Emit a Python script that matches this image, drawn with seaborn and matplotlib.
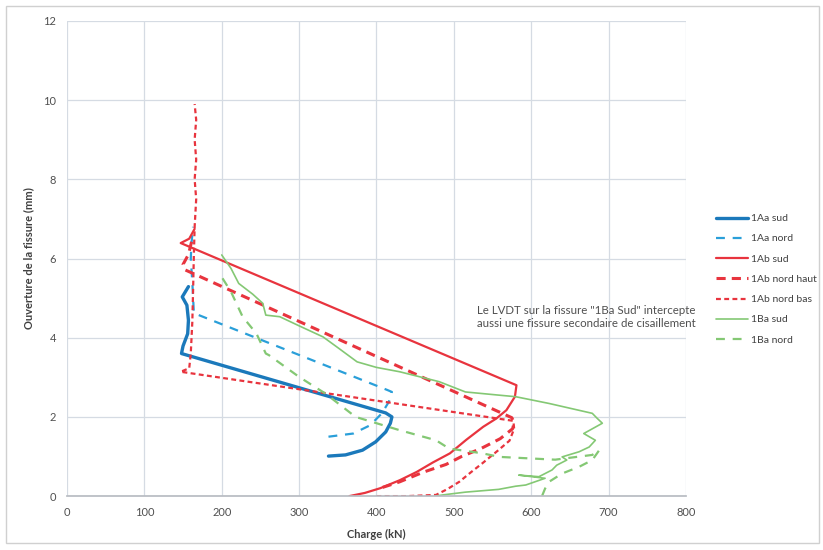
import matplotlib
matplotlib.use("Agg")
import matplotlib.pyplot as plt
import seaborn as sns
import pandas as pd
from matplotlib.patches import Rectangle

# Values (load in kN, crack opening in mm)
aa_sud_x = [338, 360, 382, 399, 412, 418, 420, 412, 148, 150, 156, 157, 155, 149, 157]
aa_sud_y = [1.01, 1.04, 1.16, 1.37, 1.62, 1.84, 2.00, 2.10, 3.60, 3.79, 4.10, 4.44, 4.82, 5.03, 5.29]

aa_nord_x = [338, 370, 392, 407, 416, 420, 414, 164, 162, 160, 161, 163]
aa_nord_y = [1.50, 1.58, 1.79, 2.09, 2.38, 2.63, 2.68, 4.62, 5.40, 6.00, 6.40, 6.80]

ab_sud_x = [365, 385, 405, 430, 452, 473, 495, 516, 538, 555, 568, 579, 581, 147, 158, 165]
ab_sud_y = [0.0, 0.08, 0.20, 0.40, 0.61, 0.85, 1.08, 1.42, 1.75, 1.96, 2.17, 2.51, 2.80, 6.39, 6.50, 6.75]

ab_haut_x = [408, 430, 460, 490, 510, 535, 560, 576, 578, 575, 153, 150, 157, 162]
ab_haut_y = [0.22, 0.36, 0.60, 0.80, 1.00, 1.20, 1.45, 1.70, 1.85, 1.98, 5.71, 5.85, 6.10, 6.50]

ab_bas_x = [400, 440, 477, 492, 507, 522, 537, 557, 572, 578, 577, 147, 158, 160, 162, 163, 164, 165, 167, 165, 167, 165, 167, 165]
ab_bas_y = [0.0, 0.0, 0.03, 0.18, 0.36, 0.60, 0.83, 1.15, 1.40, 1.70, 1.90, 3.14, 3.23, 3.60, 4.40, 5.20, 6.10, 6.80, 7.50, 8.00, 8.50, 9.00, 9.50, 9.90]

ba_sud_x = [200, 212, 222, 240, 253, 257, 275, 300, 331, 350, 375, 400, 430, 481, 515, 558, 580, 623, 679, 685,
            692, 668, 683, 675, 662, 640, 646, 633, 627, 610, 584, 618, 593, 580, 558, 515, 490, 475]
ba_sud_y = [6.09, 5.75, 5.37, 5.10, 4.87, 4.57, 4.53, 4.30, 4.02, 3.75, 3.39, 3.25, 3.14, 2.89, 2.63, 2.55, 2.51, 2.34, 2.09, 1.97,
            1.84, 1.58, 1.41, 1.24, 1.12, 0.99, 0.91, 0.78, 0.66, 0.49, 0.53, 0.45, 0.28, 0.25, 0.17, 0.10, 0.04, 0.0]

ba_nord_x = [201, 212, 227, 245, 257, 261, 300, 334, 373, 429, 477, 494, 537, 559, 631, 679, 688, 679, 662, 640, 623, 618, 614]
ba_nord_y = [5.50, 5.16, 4.53, 4.10, 3.60, 3.56, 3.01, 2.59, 2.00, 1.67, 1.41, 1.20, 1.08, 0.99, 0.92, 1.04, 1.16, 0.91, 0.74, 0.57, 0.36, 0.19, 0.0]

x_ticks = [0, 100, 200, 300, 400, 500, 600, 700, 800]
y_ticks = [0, 2, 4, 6, 8, 10, 12]

series = [
    ("1Aa sud", aa_sud_x, aa_sud_y, "#1b79bb", 2.4, "-"),
    ("1Aa nord", aa_nord_x, aa_nord_y, "#2a9fd9", 1.6, (0, (4, 3.5))),
    ("1Ab sud", ab_sud_x, ab_sud_y, "#e8343e", 1.6, "-"),
    ("1Ab nord haut", ab_haut_x, ab_haut_y, "#e8343e", 2.2, (0, (3, 2))),
    ("1Ab nord bas", ab_bas_x, ab_bas_y, "#e8343e", 1.6, (0, (2.2, 1.5))),
    ("1Ba sud", ba_sud_x, ba_sud_y, "#84c874", 1.2, "-"),
    ("1Ba nord", ba_nord_x, ba_nord_y, "#84c874", 1.6, (0, (4, 3.5))),
]

sns.set_theme(style="white")
plt.rcParams['font.family'] = ['Lato', 'DejaVu Sans']

fig = plt.figure(figsize=(8.23, 5.5), dpi=100)
ax = fig.add_axes([0.0814, 0.098, 0.752, 0.864])

for name, xs, ys, col, lw, ls in series:
    d = pd.DataFrame({"Charge": xs, "Ouverture": ys})
    sns.lineplot(data=d, x="Charge", y="Ouverture", sort=False, estimator=None,
                 color=col, linewidth=lw, linestyle=ls, label=name, ax=ax)

ax.set_xlim(0, 800)
ax.set_ylim(0, 12)
ax.set_xticks(x_ticks)
ax.set_yticks(y_ticks)
ax.grid(True, color="#d5dbe3", linewidth=0.9)
ax.set_axisbelow(True)
for s in ["top", "right", "left"]:
    ax.spines[s].set_visible(False)
ax.spines["bottom"].set_color("#b8bcc2")
ax.tick_params(axis="both", length=0, labelsize=8, colors="#505050", pad=8)

ax.set_xlabel("Charge (kN)", fontsize=8, fontweight="bold", color="#404040", labelpad=8)
ax.set_ylabel("Ouverture de la fissure (mm)", fontsize=8, fontweight="bold", color="#404040", labelpad=6)

leg = ax.legend(loc="upper left", bbox_to_anchor=(0.870, 0.611), bbox_transform=fig.transFigure,
                frameon=False, fontsize=7.5, handlelength=3.1, handletextpad=0.3,
                labelspacing=1.05, borderpad=0, borderaxespad=0)
for t in leg.get_texts():
    t.set_color("#404040")

fig.text(0.579, 1 - 305 / 550,
         'Le LVDT sur la fissure "1Ba Sud" intercepte\naussi une fissure secondaire de cisaillement',
         fontsize=8.3, color="#505050", va="top", ha="left", linespacing=1.25)

fig.patches.append(Rectangle((0.007, 0.012), 0.988, 0.978, transform=fig.transFigure,
                             fill=False, edgecolor="#d0d0d0", linewidth=1.0))

fig.savefig("out.png", dpi=100)
